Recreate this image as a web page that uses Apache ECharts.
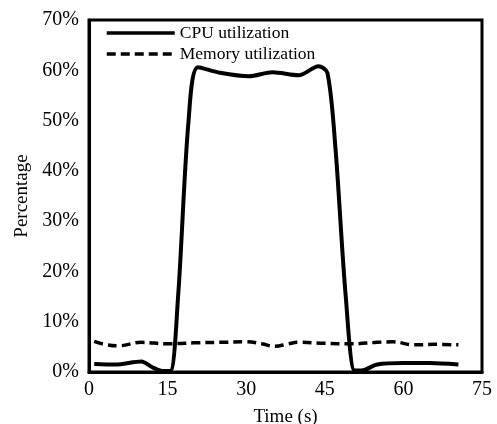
<!DOCTYPE html>
<html>
<head>
<meta charset="utf-8">
<script src="https://cdn.jsdelivr.net/npm/echarts@6/dist/echarts.min.js"></script>
<style>
  html, body { margin: 0; padding: 0; background: #fff; }
  #chart { width: 497px; height: 424px; }
</style>
</head>
<body>
<div id="chart"></div>
<script>
const cpuTime = [1, 5, 10, 12, 14, 15.5, 17, 19, 20.8, 25, 30.5, 35, 40, 43.8, 45.5, 47, 49, 50.7, 52, 55, 60, 65, 70.5]
const cpuValues = [1.6, 1.5, 2.1, 1.0, 0.2, 0.2, 15, 50, 60.6, 59.5, 58.8, 59.6, 59.0, 60.8, 59.5, 45, 15, 0.3, 0.3, 1.5, 1.8, 1.8, 1.5]
const memTime = [1, 3, 5.5, 10, 15, 20, 25, 30, 33, 35.5, 38, 40, 45, 50, 55, 58, 62, 66, 70.5]
const memValues = [6.1, 5.5, 5.2, 5.9, 5.6, 5.8, 5.9, 6.0, 5.6, 5.1, 5.6, 5.9, 5.7, 5.6, 5.9, 6.0, 5.4, 5.5, 5.4]
const xTicks = [0, 15, 30, 45, 60, 75]
const yTicks = [0, 10, 20, 30, 40, 50, 60, 70]

const font = '"Liberation Serif", "DejaVu Serif", serif'
const zip = (a, b) => a.map((t, i) => [t, b[i]])

const option = {
  backgroundColor: '#fff',
  animation: false,
  textStyle: { fontFamily: font, color: '#000' },
  grid: {
    left: 89, right: 15, top: 20, bottom: 52,
    outerBoundsMode: 'none',
    containLabel: false,
    show: true, borderColor: '#000', borderWidth: 3
  },
  legend: {
    orient: 'vertical',
    left: 100, top: 19,
    itemWidth: 68, itemHeight: 12, itemGap: 3,
    itemStyle: { opacity: 0 },
    lineStyle: { width: 3.5 },
    textStyle: { fontFamily: font, fontSize: 17.5, color: '#000' },
    data: ['CPU utilization', 'Memory utilization']
  },
  xAxis: {
    type: 'value',
    min: xTicks[0], max: xTicks[xTicks.length - 1], interval: 15,
    name: 'Time (s)', nameLocation: 'middle', nameGap: 36,
    nameTextStyle: { fontFamily: font, fontSize: 19, color: '#000' },
    axisLine: { lineStyle: { color: '#000', width: 3 } },
    axisTick: { show: false },
    splitLine: { show: false },
    axisLabel: { fontFamily: font, fontSize: 20, color: '#000', margin: 8 }
  },
  yAxis: {
    type: 'value',
    min: yTicks[0], max: yTicks[yTicks.length - 1], interval: 10,
    name: 'Percentage', nameLocation: 'middle', nameGap: 55,
    nameTextStyle: { fontFamily: font, fontSize: 19, color: '#000' },
    axisLine: { show: true, lineStyle: { color: '#000', width: 3 } },
    axisTick: { show: false },
    splitLine: { show: false },
    axisLabel: { fontFamily: font, fontSize: 20, color: '#000', margin: 10, formatter: '{value}%' }
  },
  series: [
    {
      name: 'CPU utilization',
      type: 'line',
      data: zip(cpuTime, cpuValues),
      smooth: 0.3,
      symbol: 'none',
      lineStyle: { color: '#000', width: 4 },
      itemStyle: { color: '#000' }
    },
    {
      name: 'Memory utilization',
      type: 'line',
      data: zip(memTime, memValues),
      smooth: 0.4,
      symbol: 'none',
      lineStyle: { color: '#000', width: 3.5, type: [9, 5] },
      itemStyle: { color: '#000' }
    }
  ]
}

const chart = echarts.init(document.getElementById('chart'))
chart.setOption(option)
</script>
</body>
</html>
